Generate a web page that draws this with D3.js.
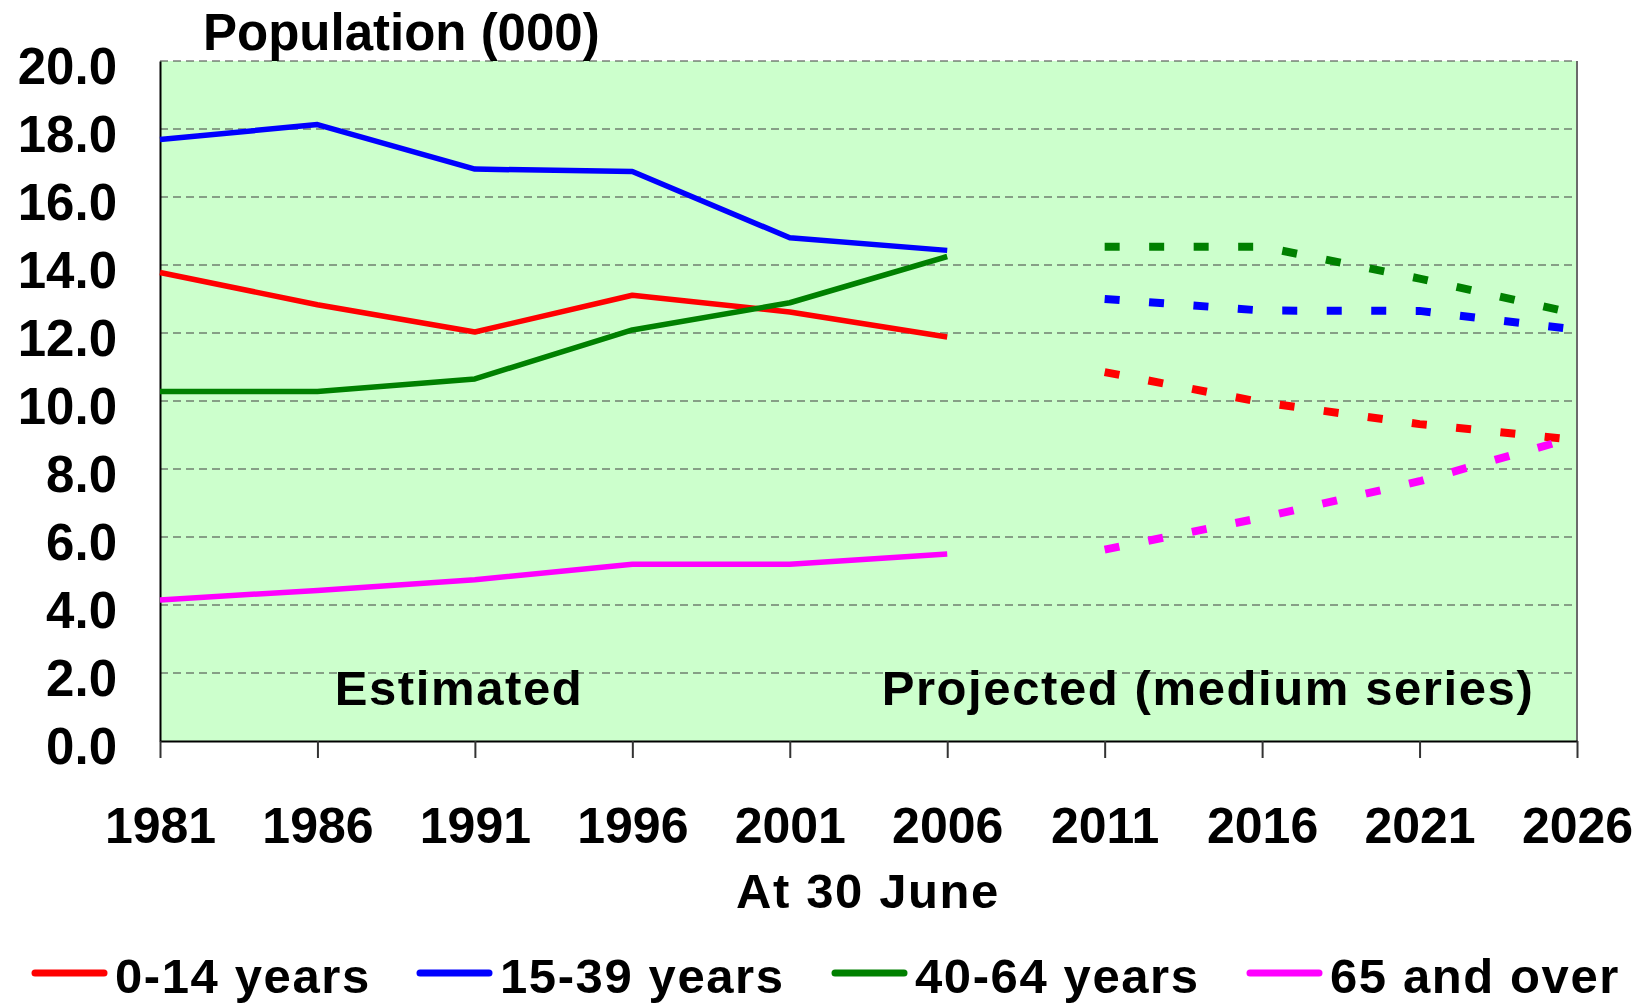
<!DOCTYPE html>
<html>
<head>
<meta charset="utf-8">
<script src="https://cdn.jsdelivr.net/npm/d3@7"></script>
<style>
  body { margin: 0; background: #fff; }
  text { font-family: "Liberation Sans", Arial, sans-serif; font-weight: bold; fill: #000; }
</style>
</head>
<body>
<div id="chart-area"></div>
<script>
// chart values
var years = [1981, 1986, 1991, 1996, 2001, 2006, 2011, 2016, 2021, 2026];
var estYears = [1981, 1986, 1991, 1996, 2001, 2006];
var projYears = [2011, 2016, 2021, 2026];

var age0_14_est = [13.78, 12.83, 12.03, 13.11, 12.62, 11.88];
var age0_14_proj = [10.85, 9.96, 9.32, 8.85];
var age15_39_est = [17.69, 18.13, 16.82, 16.75, 14.80, 14.43];
var age15_39_proj = [13.0, 12.66, 12.65, 12.1];
var age40_64_est = [10.28, 10.28, 10.65, 12.09, 12.89, 14.25];
var age40_64_proj = [14.54, 14.54, 13.6, 12.56];
var age65_est = [4.15, 4.43, 4.74, 5.2, 5.2, 5.5];
var age65_proj = [5.63, 6.57, 7.64, 8.95];

var seriesNames = ["0-14 years", "15-39 years", "40-64 years", "65 and over"];
var seriesColors = ["#ff0000", "#0000ff", "#008000", "#ff00ff"];
var yTicks = [0, 2, 4, 6, 8, 10, 12, 14, 16, 18, 20];

var width = 1641, height = 1003;
var margin = {left: 160, right: 64, top: 61, bottom: 262};

var svg = d3.select("#chart-area")
    .append("svg")
    .attr("width", width)
    .attr("height", height);

var x = d3.scalePoint().domain(years).range([margin.left, width - margin.right]);
var y = d3.scaleLinear().domain([0, 20]).range([height - margin.bottom, margin.top]);

// plot background
svg.append("rect")
    .attr("x", x(1981))
    .attr("y", y(20))
    .attr("width", x(2026) - x(1981))
    .attr("height", y(0) - y(20))
    .attr("fill", "#ccffcc");

// gridlines
svg.append("g")
    .selectAll("line")
    .data(yTicks.filter(function(d) { return d > 0; }))
    .enter().append("line")
    .attr("x1", x(1981))
    .attr("x2", x(2026))
    .attr("y1", function(d) { return y(d); })
    .attr("y2", function(d) { return y(d); })
    .attr("stroke", "#404040")
    .attr("stroke-width", 1.2)
    .attr("stroke-dasharray", "8,5");

// right border
svg.append("line")
    .attr("x1", x(2026)).attr("x2", x(2026))
    .attr("y1", y(20)).attr("y2", y(0))
    .attr("stroke", "#6a6a6a")
    .attr("stroke-width", 2);

// y axis
var yAxis = d3.axisLeft(y)
    .tickValues(yTicks)
    .tickSize(0)
    .tickPadding(43)
    .tickFormat(d3.format(".1f"));

var yg = svg.append("g")
    .attr("transform", "translate(" + x(1981) + ",0)")
    .call(yAxis);
yg.select(".domain").attr("stroke", "#000").attr("stroke-width", 2);
yg.selectAll("text")
    .attr("font-size", "51px")
    .attr("font-family", "Liberation Sans, Arial, sans-serif")
    .attr("font-weight", "bold")
    .attr("dy", "0.44em");

// x axis
var xAxis = d3.axisBottom(x)
    .tickSizeInner(17)
    .tickSizeOuter(0);

var xg = svg.append("g")
    .attr("transform", "translate(0," + y(0) + ")")
    .call(xAxis);
xg.select(".domain").attr("stroke", "#000").attr("stroke-width", 2);
xg.selectAll(".tick line").attr("stroke", "#333").attr("stroke-width", 2);
xg.selectAll("text")
    .attr("y", 102)
    .attr("dy", 0)
    .attr("font-size", "50px")
    .attr("font-family", "Liberation Sans, Arial, sans-serif")
    .attr("font-weight", "bold");

// lines
var line = d3.line()
    .x(function(d) { return x(d.year); })
    .y(function(d) { return y(d.value); });

var estSeries = [age0_14_est, age15_39_est, age40_64_est, age65_est];
var projSeries = [age0_14_proj, age15_39_proj, age40_64_proj, age65_proj];

estSeries.forEach(function(vals, i) {
    svg.append("path")
        .datum(vals.map(function(v, j) { return {year: estYears[j], value: v}; }))
        .attr("fill", "none")
        .attr("stroke", seriesColors[i])
        .attr("stroke-width", 5.5)
        .attr("stroke-linejoin", "round")
        .attr("d", line);
});

projSeries.forEach(function(vals, i) {
    svg.append("path")
        .datum(vals.map(function(v, j) { return {year: projYears[j], value: v}; }))
        .attr("fill", "none")
        .attr("stroke", seriesColors[i])
        .attr("stroke-width", 8)
        .attr("stroke-dasharray", "15,29.5")
        .attr("d", line);
});

// titles and labels
svg.append("text")
    .attr("x", 203)
    .attr("y", 50)
    .attr("font-size", "51px")
    .text("Population (000)");

var labels = svg.append("g")
    .attr("font-size", "49px")
    .attr("letter-spacing", "1.6px");

labels.append("text")
    .attr("x", 459)
    .attr("y", 705)
    .attr("text-anchor", "middle")
    .text("Estimated");

labels.append("text")
    .attr("x", 1208)
    .attr("y", 705)
    .attr("text-anchor", "middle")
    .text("Projected (medium series)");

labels.append("text")
    .attr("x", 868)
    .attr("y", 908)
    .attr("text-anchor", "middle")
    .text("At 30 June");

// legend
var legendX = [32, 417, 832, 1247];
var legendTextX = [115, 500, 915, 1330];
var legend = svg.append("g")
    .attr("font-size", "49px")
    .attr("letter-spacing", "1.6px");
seriesNames.forEach(function(name, i) {
    legend.append("line")
        .attr("x1", legendX[i] + 3)
        .attr("x2", legendX[i] + 72)
        .attr("y1", 973)
        .attr("y2", 973)
        .attr("stroke", seriesColors[i])
        .attr("stroke-width", 7)
        .attr("stroke-linecap", "round");
    legend.append("text")
        .attr("x", legendTextX[i])
        .attr("y", 993)
        .text(name);
});
</script>
</body>
</html>
